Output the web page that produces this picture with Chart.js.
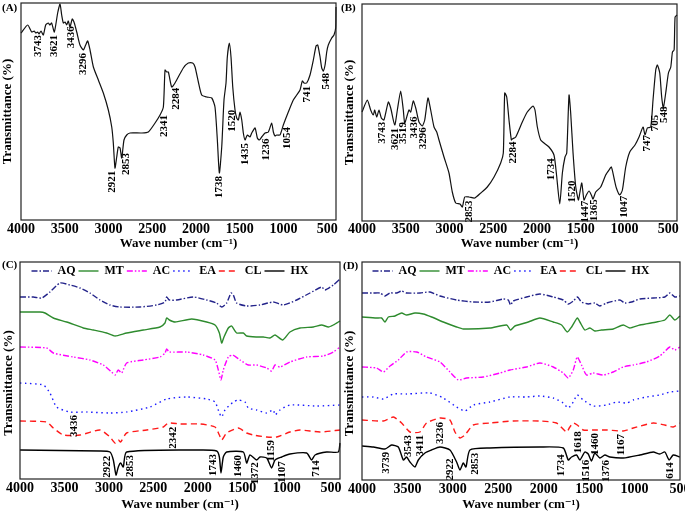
<!DOCTYPE html>
<html lang="en">
<head>
  <meta charset="UTF-8">
  <title>FTIR spectra A-D</title>
  <script src="https://cdn.jsdelivr.net/npm/chart.js"></script>
  <style>
    body { margin: 0; background: white; }
    #wrap { position: relative; width: 685px; height: 518px; overflow: hidden; }
    canvas { position: absolute; }
  </style>
</head>
<body>
  <div id="wrap">
    <canvas id="chartA" width="340" height="250" style="left:0;top:0"></canvas>
    <canvas id="chartB" width="345" height="250" style="left:340px;top:0"></canvas>
    <canvas id="chartC" width="342" height="268" style="left:0;top:250px"></canvas>
    <canvas id="chartD" width="343" height="268" style="left:342px;top:250px"></canvas>
  </div>

  <script>
    // ---- data (wavenumber in cm-1, transmittance in arbitrary units) ----
    const xTicks = [4000, 3500, 3000, 2500, 2000, 1500, 1000, 500];
    const xTickLabels = ['4000', '3500', '3000', '2500', '2000', '1500', '1000', '500'];

    // (A)
    const aWave = [4000,3924,3878,3848,3832,3809,3794,3771,3745,3718,3688,3669,3650,3619,3581,3554,3535,3516,3497,3478,
      3459,3440,3414,3391,3363,3326,3288,3261,3238,3211,3173,3116,3059,3002,2963,2945,2926,2906,2888,2868,
      2849,2823,2792,2754,2620,2545,2468,2411,2373,2354,2335,2316,2278,2240,2145,2088,2038,2011,1973,1935,
      1877,1820,1783,1756,1733,1706,1680,1657,1642,1619,1600,1580,1554,1535,1516,1497,1477,1459,1440,1413,
      1383,1363,1325,1299,1276,1249,1211,1173,1135,1116,1097,1078,1040,1002,945,888,849,811,785,765,
      735,697,659,628,609,582,563,545,525,506,488,449,423,404,400];
    const aTrans = [187,195,188,189,187,188,186,189,185,195,197,195,197,188,207,216,205,197,198,195,
      199,193,201,197,188,175,170,175,179,170,153,140,127,110,93,77,52,63,73,72,
      62,80,85,87,87,88,97,105,113,150,148,148,133,137,152,157,157,153,138,125,
      123,122,113,80,47,73,120,137,163,177,163,133,110,102,100,108,100,87,80,85,
      83,87,92,82,80,83,87,88,97,88,84,85,85,95,108,120,125,130,139,137,
      137,145,160,174,175,163,152,149,155,168,175,182,185,192,213];
    const aPeaks = [[3809,'3743'],[3619,'3621'],[3428,'3436'],[3288,'3296'],[2960,'2921'],[2803,'2853'],
      [2362,'2341'],[2223,'2284'],[1733,'1738'],[1592,'1520'],[1440,'1435'],[1200,'1236'],[963,'1054'],
      [735,'741'],[517,'548']];

    // (B)
    const bWave = [4000,3939,3901,3871,3855,3832,3806,3779,3749,3699,3672,3626,3596,3558,3528,3512,3482,3463,3443,3414,
      3386,3349,3311,3283,3246,3215,3177,3146,3120,3063,3006,2968,2929,2880,2853,2826,2777,2712,2643,2568,
      2491,2415,2385,2369,2346,2320,2293,2282,2243,2168,2111,2045,2023,1996,1958,1920,1863,1806,1779,1740,
      1710,1680,1660,1634,1615,1588,1557,1527,1511,1488,1463,1436,1405,1379,1360,1329,1272,1215,1177,1150,
      1120,1093,1054,1024,986,940,880,834,788,765,739,700,674,643,624,597,575,556,529,498,
      471,452,433,422,400];
    const bTrans = [109,121,111,106,111,104,111,103,101,119,113,96,111,130,111,98,106,111,109,120,
      113,99,95,101,123,111,94,89,81,64,48,29,18,17,14,24,24,23,28,34,
      44,58,68,128,124,101,81,82,84,99,109,115,111,94,81,78,74,66,48,17,
      48,64,68,126,108,68,34,21,28,38,21,26,30,26,22,29,34,46,51,54,
      43,33,26,31,54,69,76,84,94,86,93,94,121,151,156,148,124,113,128,148,
      154,169,171,204,206];
    const bPeaks = [[3768,'3743'],[3626,'3621'],[3531,'3519'],[3406,'3436'],[3303,'3296'],[2777,'2853'],
      [2271,'2284'],[1840,'1734'],[1600,'1520'],[1451,'1447'],[1348,'1365'],[1006,'1047'],[739,'747'],
      [651,'705'],[548,'548']];

    // (C)
    const cAQx = [4000,3850,3756,3663,3550,3438,3325,3213,3100,2988,2875,2650,2463,2369,2350,2320,2238,2050,1900,1788,
      1731,1675,1626,1600,1563,1450,1300,1150,1038,888,738,606,569,475,400];
    const cAQy = [182,182,181,187,196,194,191,186,179,174,172,172,174,177,182,179,179,182,179,176,
      172,176,186,184,176,173,174,177,174,179,186,192,189,194,200];
    const cMTx = [4000,3775,3719,3625,3475,3288,3175,3025,2931,2800,2613,2425,2369,2350,2320,2256,2069,1900,1806,1757,
      1731,1705,1656,1619,1563,1488,1450,1338,1263,1188,1131,1045,963,850,700,606,531,475,400];
    const cMTy = [167,167,166,161,157,151,149,146,143,146,149,152,156,161,159,157,160,157,154,146,
      136,142,151,153,146,146,143,142,142,141,144,139,147,151,152,154,152,154,158];
    const cACx = [4000,3700,3625,3400,3213,3063,2969,2931,2894,2856,2800,2613,2425,2369,2350,2320,2125,1938,1806,1769,
      1739,1713,1656,1606,1525,1431,1338,1225,1169,1131,1075,963,775,588,475,400];
    const cACy = [132,131,126,122,119,114,107,104,109,106,116,119,122,126,130,127,127,124,119,109,
      99,109,122,124,119,114,114,111,108,114,112,117,122,123,127,132];
    const cEAx = [4000,3738,3663,3588,3438,3250,2988,2800,2538,2350,2125,1900,1806,1757,1731,1694,1600,1544,1469,1431,
      1338,1225,1150,1131,1075,963,663,400];
    const cEAy = [96,94,86,72,67,67,66,67,72,80,82,80,77,66,62,69,77,79,77,71,
      69,66,69,64,69,74,73,74];
    const cCLx = [4000,3700,3625,3513,3325,3100,2988,2931,2894,2868,2800,2575,2388,2331,2200,1975,1806,1757,1731,1675,
      1544,1450,1375,1225,1113,963,850,625,400];
    const cCLy = [58,57,51,44,44,49,42,36,39,37,46,49,52,56,55,55,52,44,39,46,
      51,46,44,42,42,47,49,47,49];
    const cHXx = [4000,3100,2988,2950,2920,2894,2868,2838,2800,1975,1788,1757,1739,1713,1675,1488,1450,1413,1338,1300,
      1225,1169,1131,1056,963,775,719,681,550,419,400];
    const cHXy = [29,28,27,19,4,12,16,12,27,29,28,22,6,22,27,27,16,24,19,22,
      21,11,19,22,25,26,19,24,27,27,36];
    const cPeaks = [[3393,'3436','EA'],[3018,'2922','HX'],[2763,'2853','HX'],[2282,'2342','CL'],[1825,'1743','HX'],
      [1544,'1460','HX'],[1350,'1372','HX'],[1169,'1159','CL'],[1056,'1107','HX'],[664,'714','HX']];

    // (D)
    const dAQx = [4000,3875,3802,3747,3692,3619,3564,3509,3362,3252,3142,2959,2775,2592,2445,2390,2365,2335,2189,2042,
      1895,1785,1730,1675,1628,1584,1510,1437,1382,1308,1162,1107,1033,942,795,667,612,557,502];
    const dAQy = [187,187,187,184,187,187,189,187,187,188,184,180,178,178,181,180,175,179,183,186,
      183,180,176,179,183,178,176,177,174,177,180,177,178,181,182,183,187,183,184];
    const dMTx = [4000,3839,3784,3747,3710,3637,3564,3509,3417,3325,3234,3105,2959,2885,2592,2409,2365,2317,2170,2042,
      1895,1803,1741,1693,1631,1602,1547,1492,1437,1364,1235,1125,1052,942,759,667,612,557,502];
    const dMTy = [163,162,162,158,163,164,167,165,167,166,163,158,153,151,152,155,150,154,158,162,
      158,155,148,153,162,158,150,152,149,150,151,155,152,155,158,160,165,160,164];
    const dACx = [4000,3839,3765,3692,3600,3509,3399,3289,3142,3032,2940,2849,2665,2482,2372,2189,2042,1895,1785,1730,
      1675,1631,1584,1529,1455,1345,1235,1125,1015,869,722,612,557,502];
    const dACy = [113,112,108,114,120,128,128,123,118,108,100,102,103,107,110,113,117,113,107,102,
      110,123,115,105,107,105,108,113,115,118,124,133,130,133];
    const dEAx = [4000,3875,3765,3655,3509,3252,3105,2959,2867,2775,2592,2372,2189,2042,1895,1785,1730,1675,1631,1565,
      1455,1308,1199,1088,1015,869,722,612,502];
    const dEAy = [83,83,81,86,86,87,82,73,69,75,78,83,83,84,82,77,72,78,85,80,
      74,75,78,77,80,83,85,88,89];
    const dCLx = [4000,3765,3655,3564,3472,3362,3289,3142,3032,2977,2922,2867,2775,2592,2335,2042,1859,1749,1712,1675,
      1631,1565,1455,1308,1125,1015,795,667,575,502];
    const dCLy = [60,59,63,57,48,48,57,62,60,48,42,45,55,57,59,59,57,48,53,57,
      55,50,50,50,49,52,57,55,53,57];
    const dHXx = [4000,3875,3747,3674,3600,3545,3509,3472,3417,3380,3307,3234,3142,3032,2959,2922,2885,2856,2812,2592,
      2042,1785,1730,1693,1639,1602,1547,1510,1474,1437,1382,1327,1272,1125,942,795,722,667,619,575,502];
    const dHXy = [34,33,31,35,33,20,23,18,13,20,27,30,33,30,18,10,17,13,30,32,
      33,32,20,23,25,20,28,26,19,27,22,25,23,22,25,28,26,28,20,25,23];
    const dPeaks = [[3729,'3739','HX'],[3490,'3543','CL'],[3362,'3411','CL'],[3142,'3236','CL'],[3032,'2922','HX'],
      [2757,'2853','HX'],[1803,'1734','HX'],[1620,'1618','CL'],[1529,'1516','HX'],[1437,'1460','CL'],
      [1308,'1376','HX'],[1143,'1167','CL'],[612,'614','HX']];

    // ---- drawing ----
    const serif = "'Liberation Serif', 'Times New Roman', 'DejaVu Serif', serif";
    Chart.defaults.font.family = serif;
    Chart.defaults.font.weight = 'bold';
    Chart.defaults.color = '#000';

    const styles = {
      AQ: { color: '#23238a', dash: [6, 2, 1.5, 2] },
      MT: { color: '#2e8b2e', dash: [] },
      AC: { color: '#ff00ff', dash: [6, 2, 1.5, 2, 1.5, 2] },
      EA: { color: '#1a1aff', dash: [1.5, 3.5] },
      CL: { color: '#ff1a1a', dash: [6, 4] },
      HX: { color: '#000000', dash: [] }
    };

    function interp(xs, ys, w) {
      for (let i = 0; i < xs.length - 1; i++) {
        const a = xs[i], b = xs[i + 1];
        if ((w <= a && w >= b) || (w >= a && w <= b)) {
          return ys[i] + (w - a) / (b - a) * (ys[i + 1] - ys[i]);
        }
      }
      return w > xs[0] ? ys[0] : ys[ys.length - 1];
    }

    function line(label, xs, ys, color, width, dash) {
      return {
        label: label,
        data: xs.map((x, i) => ({ x: x, y: ys[i] })),
        borderColor: color,
        backgroundColor: color,
        borderWidth: width,
        borderDash: dash,
        pointRadius: 0,
        pointStyle: 'line',
        tension: 0.2,
        fill: false,
        clip: false
      };
    }

    // legend items built by Chart.js, but keep the dataset's dash and width on the sample line
    function legendItems(chart) {
      const items = Chart.defaults.plugins.legend.labels.generateLabels(chart);
      items.forEach(it => {
        const ds = chart.data.datasets[it.datasetIndex];
        it.lineDash = ds.borderDash;
        it.lineWidth = ds.borderWidth;
        it.strokeStyle = ds.borderColor;
      });
      return items;
    }

    // box around the plot (and legend, where there is one)
    const framePlugin = {
      id: 'frame',
      afterDraw(chart) {
        const a = chart.chartArea, ctx = chart.ctx;
        const top = chart.options.plugins.legend.display ? chart.legend.top : a.top;
        ctx.save();
        ctx.strokeStyle = '#222';
        ctx.lineWidth = 1.2;
        ctx.strokeRect(a.left, top, a.right - a.left, a.bottom - top);
        ctx.restore();
      }
    };

    // rotated peak numbers hung just under the curve
    function peakPlugin(peaks, series) {
      return {
        id: 'peaks',
        afterDatasetsDraw(chart) {
          const xs = chart.scales.x, ys = chart.scales.y, ctx = chart.ctx;
          ctx.save();
          ctx.font = 'bold 11px ' + serif;
          ctx.fillStyle = '#000';
          ctx.textAlign = 'right';
          ctx.textBaseline = 'middle';
          peaks.forEach(p => {
            const s = series[p[2] || 'main'];
            const px = xs.getPixelForValue(p[0]);
            let low = Infinity;
            [-3, 0, 3].forEach(d => {
              low = Math.min(low, interp(s.x, s.y, xs.getValueForPixel(px + d)));
            });
            const top = ys.getPixelForValue(low) + 3;
            ctx.save();
            ctx.translate(px, top);
            ctx.rotate(-Math.PI / 2);
            ctx.fillText(p[1], 0, 0);
            ctx.restore();
          });
          ctx.restore();
        }
      };
    }

    function tagPlugin(text, x, y) {
      return {
        id: 'tag',
        afterDraw(chart) {
          const ctx = chart.ctx;
          ctx.save();
          ctx.font = 'bold 11px ' + serif;
          ctx.fillStyle = '#000';
          ctx.textBaseline = 'middle';
          ctx.fillText(text, x, y);
          ctx.restore();
        }
      };
    }

    function panel(id, cfg) {
      return new Chart(document.getElementById(id), {
        type: 'line',
        data: { datasets: cfg.datasets },
        options: {
          responsive: false,
          animation: false,
          layout: { padding: { top: cfg.padTop, right: cfg.padRight, left: 0, bottom: 0 } },
          plugins: {
            legend: cfg.legend ? {
              display: true,
              position: 'top',
              labels: {
                usePointStyle: true,
                pointStyleWidth: 20,
                boxHeight: 12,
                padding: 3,
                color: '#000',
                font: { size: 12, weight: 'bold' },
                generateLabels: legendItems
              }
            } : { display: false },
            tooltip: { enabled: false }
          },
          scales: {
            x: {
              type: 'linear',
              reverse: true,
              min: cfg.xMin,
              max: 4000,
              grid: { display: false, drawTicks: false },
              border: { display: false },
              afterBuildTicks: s => { s.ticks = xTicks.map(v => ({ value: v })); },
              ticks: {
                autoSkip: false,
                maxRotation: 0,
                padding: cfg.tickPad,
                color: '#000',
                font: { size: 14, weight: 'bold' },
                callback: (v, i) => xTickLabels[i]
              },
              title: {
                display: true,
                text: 'Wave number (cm⁻¹)',
                color: '#000',
                font: { size: 13, weight: 'bold' },
                padding: { top: 0, bottom: cfg.titlePad }
              },
              afterFit: s => { s.height = cfg.xHeight; s.paddingLeft = 0; s.paddingRight = 0; }
            },
            y: {
              type: 'linear',
              min: 0,
              max: cfg.yMax,
              ticks: { display: false },
              grid: { display: false, drawTicks: false },
              border: { display: false },
              title: {
                display: true,
                text: 'Transmittance (%)',
                color: '#000',
                font: { size: 13, weight: 'bold' },
                padding: { top: cfg.yTitlePad, bottom: 0 }
              },
              afterFit: s => { s.width = cfg.yWidth; s.paddingTop = 0; s.paddingBottom = 0; }
            }
          }
        },
        plugins: [framePlugin, peakPlugin(cfg.peaks, cfg.series), tagPlugin(cfg.tag, cfg.tagX, cfg.tagY)]
      });
    }

    function sixLines(src) {
      return ['AQ', 'MT', 'AC', 'EA', 'CL', 'HX'].map(k =>
        line(k, src[k].x, src[k].y, styles[k].color, 1.4, styles[k].dash));
    }

    const seriesC = {
      AQ: { x: cAQx, y: cAQy }, MT: { x: cMTx, y: cMTy }, AC: { x: cACx, y: cACy },
      EA: { x: cEAx, y: cEAy }, CL: { x: cCLx, y: cCLy }, HX: { x: cHXx, y: cHXy }
    };
    const seriesD = {
      AQ: { x: dAQx, y: dAQy }, MT: { x: dMTx, y: dMTy }, AC: { x: dACx, y: dACy },
      EA: { x: dEAx, y: dEAy }, CL: { x: dCLx, y: dCLy }, HX: { x: dHXx, y: dHXy }
    };

    panel('chartA', {
      datasets: [line('A', aWave, aTrans, '#111', 1.2, [])],
      series: { main: { x: aWave, y: aTrans } },
      peaks: aPeaks,
      xMin: 400, yMax: 217, padTop: 3, padRight: 4, xHeight: 30, yWidth: 21,
      tickPad: 1, titlePad: -1, yTitlePad: 0, tag: '(A)', tagX: 2, tagY: 8
    });
    panel('chartB', {
      datasets: [line('B', bWave, bTrans, '#111', 1.2, [])],
      series: { main: { x: bWave, y: bTrans } },
      peaks: bPeaks,
      xMin: 400, yMax: 217, padTop: 4, padRight: 8, xHeight: 29, yWidth: 22,
      tickPad: 0, titlePad: -1, yTitlePad: 2, tag: '(B)', tagX: 1, tagY: 8
    });
    panel('chartC', {
      datasets: sixLines(seriesC),
      series: seriesC,
      peaks: cPeaks,
      legend: true,
      xMin: 400, yMax: 192, padTop: 12, padRight: 2, xHeight: 39, yWidth: 20,
      tickPad: 1, titlePad: 6, yTitlePad: 1, tag: '(C)', tagX: 2, tagY: 15
    });
    panel('chartD', {
      datasets: sixLines(seriesD),
      series: seriesD,
      peaks: dPeaks,
      legend: true,
      xMin: 500, yMax: 193, padTop: 12, padRight: 5, xHeight: 38, yWidth: 20,
      tickPad: 1, titlePad: 6, yTitlePad: 0, tag: '(D)', tagX: 1, tagY: 16
    });
  </script>
</body>
</html>
